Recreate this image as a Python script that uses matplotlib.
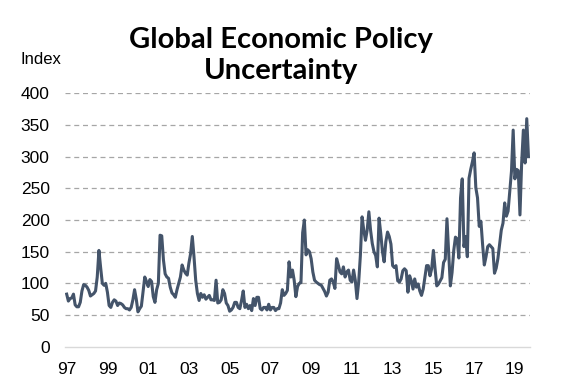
import matplotlib
matplotlib.use("Agg")
import matplotlib.pyplot as plt
import numpy as np

# Global Economic Policy Uncertainty index, monthly from Jan 1997
start_year = 1997
gepu = [
    83, 72, 76, 77, 83, 66, 63, 63, 70, 88, 98, 97,
    94, 89, 80, 82, 84, 88, 110, 152, 125, 100, 97, 100,
    86, 65, 62, 70, 74, 72, 65, 69, 68, 66, 62, 60,
    60, 58, 62, 74, 90, 75, 55, 60, 64, 87, 110, 103,
    95, 106, 103, 79, 70, 90, 100, 176, 175, 137, 115, 110,
    108, 94, 85, 82, 78, 90, 100, 110, 129, 121, 116, 113,
    132, 147, 174, 142, 105, 84, 73, 84, 78, 82, 75, 78,
    81, 74, 74, 73, 105, 69, 70, 74, 90, 84, 69, 65,
    56, 58, 62, 70, 70, 62, 60, 73, 88, 62, 67, 60,
    65, 57, 76, 65, 78, 78, 60, 58, 62, 62, 58,
    67, 58, 62, 62, 57, 60, 60, 69, 90, 81, 84, 89,
    134, 110, 121, 105, 79, 95, 100, 101, 180, 200, 145, 153,
    150, 139, 118, 105, 102, 100, 98, 97, 92, 87, 80, 86,
    105, 107, 102, 92, 139, 129, 118, 115, 126, 110, 118, 121,
    105, 102, 121, 105, 76, 102, 144, 205, 184, 168, 184, 213,
    184, 163, 150, 144, 126, 203, 179, 150, 134, 166, 181, 174,
    162, 128, 125, 128, 104, 102, 107, 120, 123, 120, 86, 112,
    104, 91, 107, 94, 99, 88, 81, 91, 109, 128, 128, 112,
    123, 152, 123, 96, 99, 104, 109, 133, 138, 202, 150, 96,
    117, 152, 173, 170, 140, 235, 265, 158, 174, 142, 266, 280,
    292, 306, 251, 235, 190, 198, 161, 129, 142, 158, 161, 158,
    155, 116, 124, 139, 161, 184, 195, 227, 206, 214, 245, 277,
    342, 265, 280, 278, 208, 290, 342, 290, 360, 300,
]
tick_years = list(range(1997, 2020, 2))
tick_labels = [f"{y % 100:02d}" for y in tick_years]
y_ticks = [0, 50, 100, 150, 200, 250, 300, 350, 400]

months = np.arange(len(gepu))

fig = plt.figure(figsize=(5.75, 3.91), dpi=100)
ax = fig.add_axes([0.113, 0.1133, 0.809, 0.648])

ax.plot(months, gepu, color="#44546A", lw=2.2, solid_joinstyle="round")

ax.set_ylim(0, 400)
ax.set_xlim(-1, len(gepu))
ax.set_yticks(y_ticks)
ax.set_xticks([(y - start_year) * 12 for y in tick_years])
ax.set_xticklabels(tick_labels)

for v in y_ticks[1:]:
    ax.axhline(v, color="#A6A6A6", lw=0.9, ls=(0, (4, 3)), zorder=0)

for s in ["left", "right", "top"]:
    ax.spines[s].set_visible(False)
ax.spines["bottom"].set_color("#D9D9D9")
ax.spines["bottom"].set_linewidth(1.0)
ax.tick_params(length=0, labelsize=12.5, colors="#000000")
ax.tick_params(axis="x", pad=11)
ax.tick_params(axis="y", pad=11)
for lab in ax.get_xticklabels() + ax.get_yticklabels():
    lab.set_family("Liberation Sans")

fig.text(0.488, 0.858, "Global Economic Policy\nUncertainty", ha="center", va="center",
         fontsize=21, fontweight="bold", family="Lato", linespacing=1.2)
fig.text(0.036, 0.847, "Index", ha="left", va="center", fontsize=12, family="Liberation Sans")

fig.savefig("out.png", dpi=100)
